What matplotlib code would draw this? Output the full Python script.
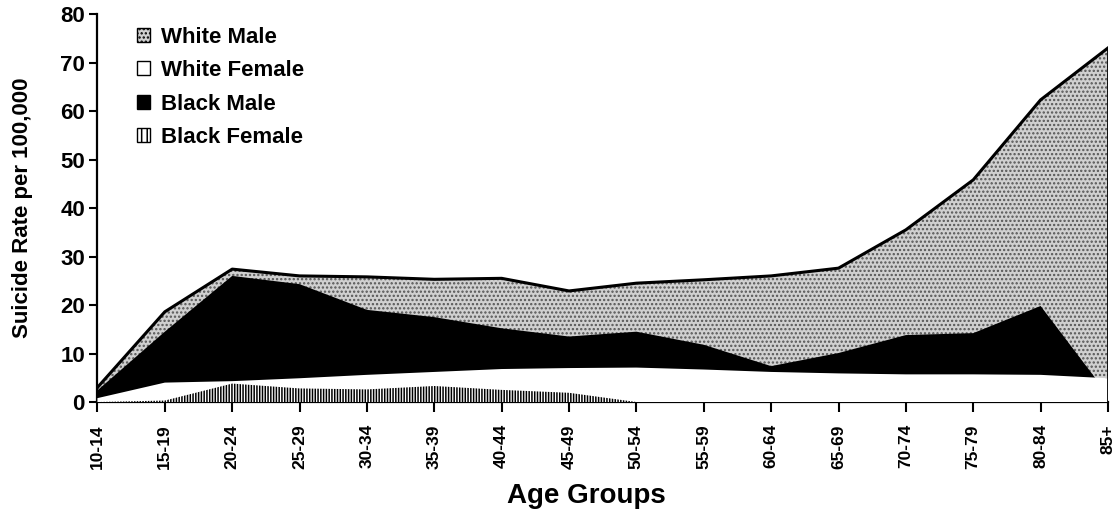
import numpy as np
import matplotlib.pyplot as plt
from matplotlib.patches import Patch

plt.rcParams['font.family'] = ['Liberation Sans', 'DejaVu Sans']
plt.rcParams['font.weight'] = 'bold'
plt.rcParams['hatch.linewidth'] = 1.1

#data
ages = ['10-14', '15-19', '20-24', '25-29', '30-34', '35-39', '40-44', '45-49',
        '50-54', '55-59', '60-64', '65-69', '70-74', '75-79', '80-84', '85+']
white_male = [3.0, 18.6, 27.4, 26.0, 25.8, 25.3, 25.5, 22.9, 24.5, 25.2, 26.0, 27.6, 35.5, 45.8, 62.3, 73.0]
white_female = [0.8, 4.0, 4.3, 4.9, 5.6, 6.2, 6.8, 7.0, 7.1, 6.7, 6.2, 5.9, 5.7, 5.7, 5.6, 4.9]
black_male = [2.4, 14.5, 26.0, 24.3, 19.0, 17.5, 15.2, 13.5, 14.5, 11.8, 7.4, 10.1, 13.8, 14.2, 19.8, 1.5]
black_female = [0.0, 0.3, 3.8, 2.8, 2.6, 3.3, 2.5, 1.9, 0.0, 0.0, 0.0, 0.0, 0.0, 0.0, 0.0, 0.0]

x = np.arange(len(ages))

fig = plt.figure(figsize=(11.15, 5.15), dpi=100)
ax = fig.add_axes([0.0874, 0.2194, 0.9063, 0.7534])

#overlapping areas, back to front
ax.fill_between(x, 0, white_male, facecolor='#d0d0d0', edgecolor='#555555', hatch='....', linewidth=0, zorder=1)
ax.fill_between(x, 0, black_male, facecolor='black', linewidth=0, zorder=2)
ax.fill_between(x, 0, white_female, facecolor='white', linewidth=0, zorder=3)
ax.fill_between(x, 0, black_female, facecolor='white', edgecolor='black', hatch='||||||', linewidth=0, zorder=4)

#outline of the white male area
ax.plot(x, white_male, color='black', lw=2.2, zorder=5)
ax.plot([x[-1], x[-1]], [0, white_male[-1]], color='black', lw=2, zorder=5)

ax.set_xlim(x[0], x[-1])
ax.set_ylim(0, 80)
ax.set_xticks(x)
ax.set_xticklabels(ages, rotation=90, fontsize=12.5, fontweight='bold')
ax.set_yticks(np.arange(0, 81, 10))
ax.tick_params(axis='y', labelsize=16, length=6, width=1.5, pad=3)
ax.tick_params(axis='x', length=7, width=1.5, pad=9)
for lab in ax.get_yticklabels():
    lab.set_fontweight('bold')

ax.spines['top'].set_visible(False)
ax.spines['right'].set_visible(False)
ax.spines['left'].set_linewidth(1.6)
ax.spines['bottom'].set_linewidth(1.6)

ax.set_ylabel('Suicide Rate per 100,000', fontsize=16, fontweight='bold')
ax.yaxis.set_label_coords(-0.064, 0.5)
ax.set_xlabel('Age Groups', fontsize=20, fontweight='bold')
ax.xaxis.set_label_coords(0.484, -0.21)

handles = [
    Patch(facecolor='#d0d0d0', edgecolor='black', hatch='....', label='White Male'),
    Patch(facecolor='white', edgecolor='black', label='White Female'),
    Patch(facecolor='black', edgecolor='black', label='Black Male'),
    Patch(facecolor='white', edgecolor='black', hatch='|||', label='Black Female'),
]
ax.legend(handles=handles, loc='upper left', bbox_to_anchor=(0.03, 0.99), frameon=False,
          prop={'size': 16, 'weight': 'bold'}, handlelength=0.6, handleheight=0.6,
          handletextpad=0.5, labelspacing=0.56, borderaxespad=0.0)

fig.savefig('out.png', dpi=100)
